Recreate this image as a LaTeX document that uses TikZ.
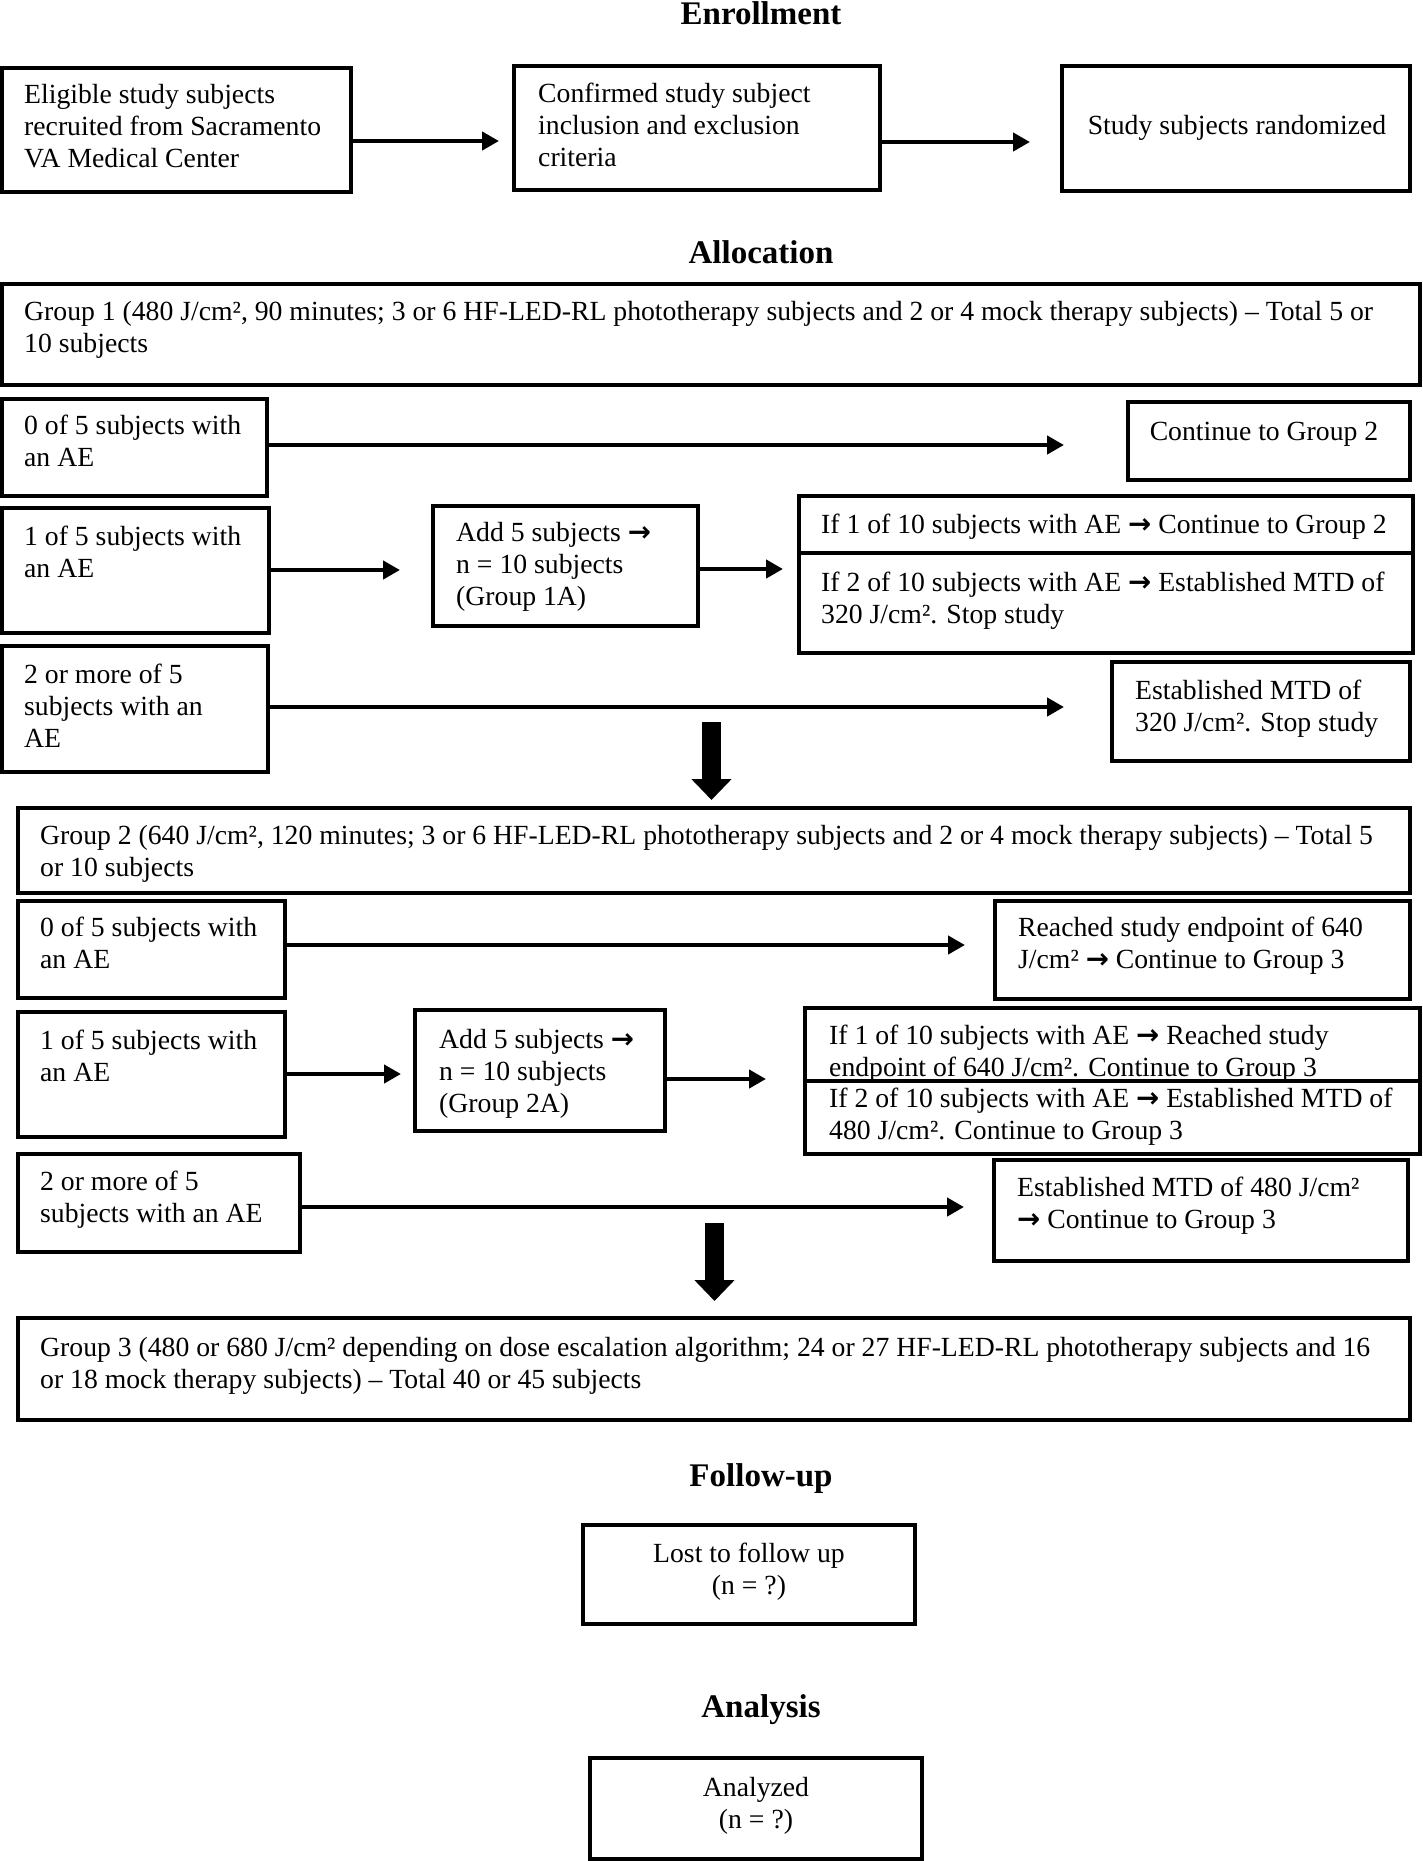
\documentclass[tikz,border=0pt]{standalone}
\usepackage{fontspec}
\setmainfont{Liberation Serif}
\newfontfamily\arrowfont{DejaVu Sans}
\usetikzlibrary{arrows.meta}
\newcommand\fsz{\fontsize{27.7}{32}\selectfont}
\newcommand\hsz{\fontsize{33}{38}\selectfont\bfseries}
\newcommand\ra{{\arrowfont\bfseries →}}
\newcommand\mybox[5]{\node[bx,minimum width={(#4-#2)*1pt},minimum height={(#5-#3)*1pt}] (#1) at (#2,#3) {};}
\tikzset{
  bx/.style={draw,line width=4.5pt,inner sep=0pt,outer sep=0pt,anchor=north west},
  tx/.style={inner sep=0pt,anchor=base west,align=left,font=\fsz},
  tc/.style={inner sep=0pt,anchor=base,align=center,font=\fsz},
  hd/.style={inner sep=0pt,anchor=base,font=\hsz},
  ar/.style={line width=4.5pt,-{Triangle[length=17pt 0 0,width=18pt 0 0]}},
  bigar/.style={line width=19pt,-{Triangle[length=21pt 0 0,width=39pt 0 0]}}
}
\begin{document}
\begin{tikzpicture}[x=1pt,y=-1pt]
\useasboundingbox (0,0) rectangle (1422,1861);
% headings
\node[hd] (hEnr) at (761,24) {Enrollment};
\node[hd] (hAll) at (761,263) {Allocation};
\node[hd] (hFol) at (761,1486) {Follow-up};
\node[hd] (hAna) at (761,1717) {Analysis};
% boxes
\mybox{e1}{2}{68}{351}{192}
\mybox{e2}{514}{66}{880}{190}
\mybox{e3}{1062}{66}{1410}{191}
\mybox{g1}{2}{284}{1420}{385}
\mybox{a0}{2}{399}{267}{496}
\mybox{c2}{1128}{402}{1410}{480}
\mybox{a1}{2}{508}{269}{633}
\mybox{ad1}{433}{506}{698}{626}
\mybox{if1}{799}{496}{1413}{553}
\mybox{if2}{799}{553}{1413}{653}
\mybox{a2}{2}{646}{268}{772}
\mybox{m320}{1112}{662}{1410}{761}
\mybox{g2}{18}{808}{1410}{893}
\mybox{b0}{18}{901}{285}{998}
\mybox{r640}{995}{901}{1410}{999}
\mybox{b1}{18}{1012}{285}{1137}
\mybox{ad2}{415}{1010}{665}{1131}
\mybox{if1b}{805}{1008}{1420}{1081}
\mybox{if2b}{805}{1081}{1420}{1154}
\mybox{b2}{18}{1154}{300}{1252}
\mybox{m480}{994}{1160}{1408}{1261}
\mybox{g3}{18}{1318}{1410}{1420}
\mybox{lost}{583}{1525}{915}{1624}
\mybox{ana}{590}{1758}{922}{1859}
% texts (base anchor = baseline of the last line)
\node[tx] (te1) at (24,167) {Eligible study subjects\\recruited from Sacramento\\VA Medical Center};
\node[tx] (te2) at (538,166) {Confirmed study subject\\inclusion and exclusion\\criteria};
\node[tc] (te3) at (1237,134) {Study subjects randomized};
\node[tx] (tg1) at (24,352) {Group 1 (480 J/cm², 90 minutes; 3 or 6 HF-LED-RL phototherapy subjects and 2 or 4 mock therapy subjects) – Total 5 or\\10 subjects};
\node[tx] (ta0) at (24,466) {0 of 5 subjects with\\an AE};
\node[tc] (tc2) at (1264,440) {Continue to Group 2};
\node[tx] (ta1) at (24,577) {1 of 5 subjects with\\an AE};
\node[tx] (tad1) at (456,605) {Add 5 subjects \ra\\n = 10 subjects\\(Group 1A)};
\node[tx] (tif1) at (821,533) {If 1 of 10 subjects with AE \ra{} Continue to Group 2};
\node[tx] (tif2) at (821,623) {If 2 of 10 subjects with AE \ra{} Established MTD of\\320 J/cm². Stop study};
\node[tx] (ta2) at (24,747) {2 or more of 5\\subjects with an\\AE};
\node[tx] (tm320) at (1135,731) {Established MTD of\\320 J/cm². Stop study};
\node[tx] (tg2) at (40,876) {Group 2 (640 J/cm², 120 minutes; 3 or 6 HF-LED-RL phototherapy subjects and 2 or 4 mock therapy subjects) – Total 5\\or 10 subjects};
\node[tx] (tb0) at (40,968) {0 of 5 subjects with\\an AE};
\node[tx] (tr640) at (1018,968) {Reached study endpoint of 640\\J/cm² \ra{} Continue to Group 3};
\node[tx] (tb1) at (40,1081) {1 of 5 subjects with\\an AE};
\node[tx] (tad2) at (439,1112) {Add 5 subjects \ra\\n = 10 subjects\\(Group 2A)};
\node[tx] (tif1b) at (829,1076) {If 1 of 10 subjects with AE \ra{} Reached study\\endpoint of 640 J/cm². Continue to Group 3};
\node[tx] (tif2b) at (829,1139) {If 2 of 10 subjects with AE \ra{} Established MTD of\\480 J/cm². Continue to Group 3};
\node[tx] (tb2) at (40,1222) {2 or more of 5\\subjects with an AE};
\node[tx] (tm480) at (1017,1228) {Established MTD of 480 J/cm²\\\ra{} Continue to Group 3};
\node[tx] (tg3) at (40,1388) {Group 3 (480 or 680 J/cm² depending on dose escalation algorithm; 24 or 27 HF-LED-RL phototherapy subjects and 16\\or 18 mock therapy subjects) – Total 40 or 45 subjects};
\node[tc] (tlost) at (749,1594) {Lost to follow up\\(n = ?)};
\node[tc] (tana) at (756,1828) {Analyzed\\(n = ?)};
% arrows
\draw[ar,shorten >=15pt] (e1.east |- 0,141) -- (e2.west |- 0,141);
\draw[ar,shorten >=32pt] (e2.east |- 0,142) -- (e3.west |- 0,142);
\draw[ar,shorten >=64pt] (a0.east |- 0,445) -- (c2.west |- 0,445);
\draw[ar,shorten >=33pt] (a1.east |- 0,570) -- (ad1.west |- 0,570);
\draw[ar,shorten >=16pt] (ad1.east |- 0,569) -- (if2.west |- 0,569);
\draw[ar,shorten >=48pt] (a2.east |- 0,707) -- (m320.west |- 0,707);
\draw[ar,shorten >=30pt] (b0.east |- 0,945) -- (r640.west |- 0,945);
\draw[ar,shorten >=14pt] (b1.east |- 0,1074) -- (ad2.west |- 0,1074);
\draw[ar,shorten >=39pt] (ad2.east |- 0,1079) -- (if1b.west |- 0,1079);
\draw[ar,shorten >=30pt] (b2.east |- 0,1207) -- (m480.west |- 0,1207);
% thick down arrows
\coordinate (d1) at (711.5,722);
\coordinate (d2) at (714.5,1223);
\draw[bigar,shorten >=8pt] (d1) -- (d1 |- g2.north);
\draw[bigar,shorten >=17pt] (d2) -- (d2 |- g3.north);
\end{tikzpicture}
\end{document}
